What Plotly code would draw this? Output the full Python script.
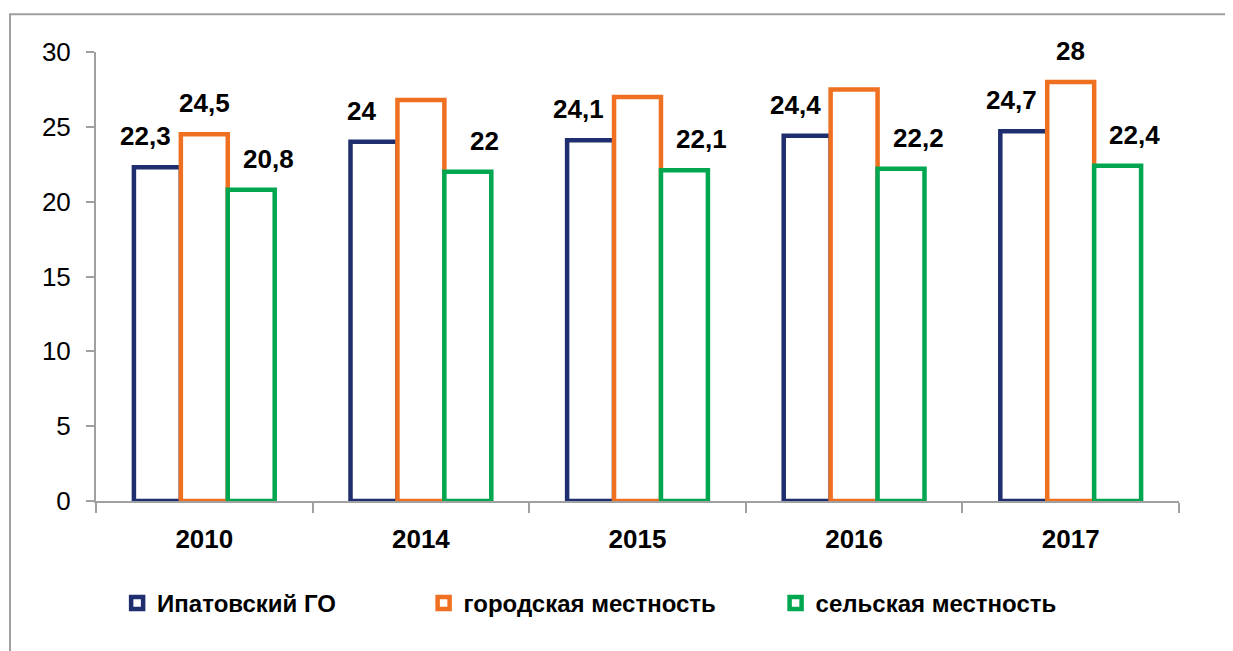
import plotly.graph_objects as go

years = ["2010", "2014", "2015", "2016", "2017"]
ipatovo = [22.3, 24.0, 24.1, 24.4, 24.7]
urban = [24.5, 26.8, 27.0, 27.5, 28.0]
rural = [20.8, 22.0, 22.1, 22.2, 22.4]
series_names = ["Ипатовский ГО", "городская местность", "сельская местность"]
urban_labeled = [True, False, False, False, True]

colors = ["#1F2E6E", "#F07022", "#00A650"]
FONT = "Liberation Sans, Arial, sans-serif"

fig = go.Figure()
all_series = [ipatovo, urban, rural]
legends = ["legend", "legend2", "legend3"]
for name, vals, col, lg in zip(series_names, all_series, colors, legends):
    fig.add_trace(go.Bar(
        x=years, y=vals, name=name, legend=lg,
        marker=dict(color="white", line=dict(color=col, width=4.5)),
        hoverinfo="x+y",
    ))

def fmt(v):
    s = ("%.1f" % v).rstrip("0").rstrip(".")
    return s.replace(".", ",")

# data labels (x given as category index)
shifts = [-11, 0, 16]
offsets = [-1, 0, 1]
for si, (vals, sh, off) in enumerate(zip(all_series, shifts, offsets)):
    for i, v in enumerate(vals):
        if si == 1 and not urban_labeled[i]:
            continue
        fig.add_annotation(
            x=i, y=v, xref="x", yref="y",
            text=fmt(v), showarrow=False,
            xshift=sh + off * 48, yshift=31,
            font=dict(family=FONT, size=26, color="black", weight="bold"),
        )

# outer frame
fig.add_shape(type="rect", xref="paper", yref="paper",
              x0=-0.0794, x1=1.06, y0=-0.36, y1=1.084,
              line=dict(color="#A0A0A0", width=2), fillcolor="rgba(0,0,0,0)", layer="below")

legend_common = dict(orientation="h", yanchor="middle", xanchor="left",
                     font=dict(family=FONT, size=24, color="black", weight="bold"),
                     bgcolor="rgba(0,0,0,0)")
fig.update_layout(
    width=1225, height=643,
    margin=dict(l=88, r=54, t=44, b=150),
    paper_bgcolor="white", plot_bgcolor="white",
    barmode="group", bargap=0.35, bargroupgap=0,
    legend=dict(x=0.0195, y=-0.228, **legend_common),
    legend2=dict(x=0.3025, y=-0.228, **legend_common),
    legend3=dict(x=0.6275, y=-0.228, **legend_common),
    xaxis=dict(type="category", showline=True, linecolor="#A0A0A0", linewidth=2,
               ticks="outside", tickson="boundaries", ticklen=10, tickcolor="#A0A0A0", tickwidth=2,
               ticklabelstandoff=14,
               tickfont=dict(family=FONT, size=26, color="black", weight="bold"),
               showgrid=False),
    yaxis=dict(range=[0, 30], dtick=5, showline=True, linecolor="#A0A0A0", linewidth=2,
               ticks="outside", ticklen=8, tickcolor="#A0A0A0", tickwidth=2,
               ticklabelstandoff=10,
               tickfont=dict(family=FONT, size=26, color="black"),
               showgrid=False, zeroline=False),
    showlegend=True,
)

fig.write_html("out.html")
